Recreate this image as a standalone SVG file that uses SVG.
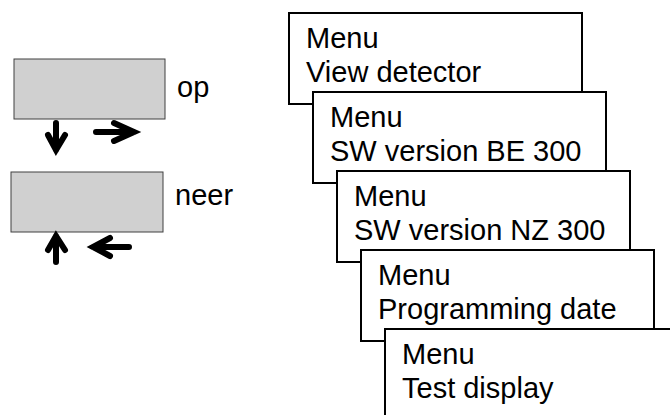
<svg xmlns="http://www.w3.org/2000/svg" width="670" height="415" viewBox="0 0 670 415">
<style>
.menu rect{fill:#fff;stroke:#000;stroke-width:2}
.menu text,.lbl{font-family:"Liberation Sans",Arial,sans-serif;font-size:29px;fill:#000}
.key{fill:#d0d0d0;stroke:#404040;stroke-width:1}
.arr{fill:none;stroke:#000;stroke-width:6;stroke-linejoin:miter;stroke-linecap:round}
</style>
<rect width="670" height="415" fill="#fff"/>
<g id="key-op"><rect class="key" x="14" y="59" width="151" height="60"/><text class="lbl" x="177" y="97">op</text></g>
<g id="key-neer"><rect class="key" x="11" y="172" width="152" height="60"/><text class="lbl" x="175" y="205">neer</text></g>
<g id="connectors">
<path class="arr" d="M56,123 V150 M48,135 L56,150 L65,135"/>
<path class="arr" d="M96,132 H134 M114,123 L134,132 L114,141"/>
<path class="arr" d="M56,262 V236 M48,250 L56,236 L65,250"/>
<path class="arr" d="M129,247 H93 M110,238 L93,247 L110,256"/>
</g>
<g id="menu1" class="menu"><rect x="289" y="13" width="293" height="91"/><text x="306" y="48">Menu</text><text x="306" y="82">View detector</text></g>
<g id="menu2" class="menu"><rect x="313" y="92" width="293" height="91"/><text x="330" y="127">Menu</text><text x="330" y="161">SW version BE 300</text></g>
<g id="menu3" class="menu"><rect x="337" y="171" width="293" height="91"/><text x="354" y="206">Menu</text><text x="354" y="240">SW version NZ 300</text></g>
<g id="menu4" class="menu"><rect x="361" y="250" width="293" height="91"/><text x="378" y="285">Menu</text><text x="378" y="319">Programming date</text></g>
<g id="menu5" class="menu"><rect x="385" y="329" width="293" height="91"/><text x="402" y="364">Menu</text><text x="402" y="398">Test display</text></g>
</svg>
